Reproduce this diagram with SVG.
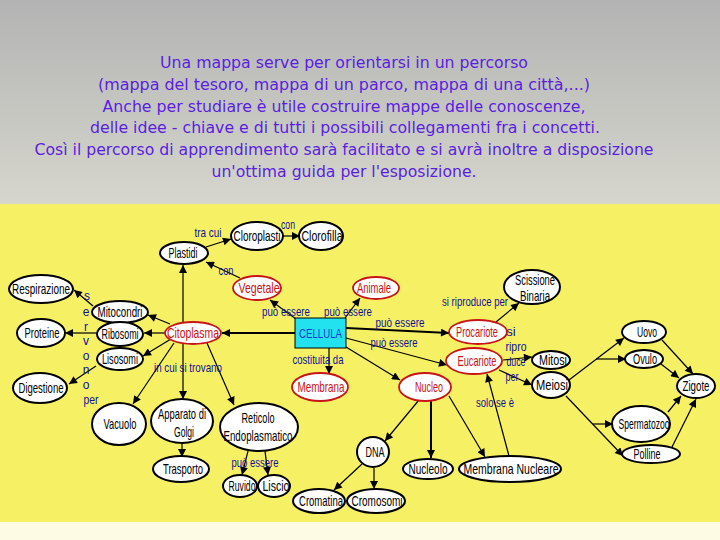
<svg xmlns="http://www.w3.org/2000/svg" width="720" height="540" viewBox="0 0 720 540">
<defs>
<linearGradient id="bg" x1="0" y1="0" x2="0" y2="1">
<stop offset="0" stop-color="#b3b3b3"/>
<stop offset="1" stop-color="#d6d6cd"/>
</linearGradient>
<marker id="a" viewBox="0 0 10 10" refX="10" refY="5" markerWidth="9" markerHeight="8" markerUnits="userSpaceOnUse" orient="auto">
<path d="M0,0 L10,5 L0,10 z" fill="#000"/>
</marker>
</defs>
<style>
.title{font-family:"DejaVu Sans",Tahoma,sans-serif;font-size:15px;fill:#5a1ee0;text-anchor:middle}
.n ellipse{fill:#fff;stroke:#000;stroke-width:2}
.r ellipse{fill:#fff;stroke:#c81414;stroke-width:1.8}
.n text{font-family:"Liberation Sans",Arial,sans-serif;font-size:14.5px;fill:#000;text-anchor:middle}
.r text{font-family:"Liberation Sans",Arial,sans-serif;font-size:14.5px;fill:#c81414;text-anchor:middle}
.lb{font-family:"Liberation Sans",Arial,sans-serif;font-size:13px;fill:#10109a;text-anchor:middle}
.sv{font-family:"Liberation Sans",Arial,sans-serif;font-size:12px;fill:#10109a;text-anchor:middle}
#conn path{fill:none;stroke:#000;stroke-width:1.2;marker-end:url(#a)}
#conn path.thick{stroke-width:2}
</style>
<rect x="0" y="0" width="720" height="204" fill="url(#bg)"/>
<rect x="0" y="204" width="720" height="318" fill="#f6f064"/>
<rect x="0" y="522" width="720" height="18" fill="#fdfbe3"/>

<g id="title">
<text class="title" x="344" y="68" textLength="368" lengthAdjust="spacingAndGlyphs">Una mappa serve per orientarsi in un percorso</text>
<text class="title" x="344" y="90" textLength="492" lengthAdjust="spacingAndGlyphs">(mappa del tesoro, mappa di un parco, mappa di una città,...)</text>
<text class="title" x="344" y="112" textLength="483" lengthAdjust="spacingAndGlyphs">Anche per studiare è utile costruire mappe delle conoscenze,</text>
<text class="title" x="345" y="133" textLength="510" lengthAdjust="spacingAndGlyphs">delle idee - chiave e di tutti i possibili collegamenti fra i concetti.</text>
<text class="title" x="344" y="155" textLength="619" lengthAdjust="spacingAndGlyphs">Così il percorso di apprendimento sarà facilitato e si avrà inoltre a disposizione</text>
<text class="title" x="344" y="177" textLength="265" lengthAdjust="spacingAndGlyphs">un'ottima guida per l'esposizione.</text>
</g>

<g id="conn">
<path d="M183,322 L183,265"/>
<path d="M206,247 L231,239"/>
<path d="M283,236 L300,236"/>
<path d="M240,278 L206,262"/>
<path d="M296,319 L270,300"/>
<path d="M345,318 L360,298"/>
<path class="thick" d="M295,333 L222,333"/>
<path class="thick" d="M346,328 L449,333"/>
<path d="M346,338 L447,365"/>
<path d="M329,348 L329,374"/>
<path d="M346,347 L400,380"/>
<path d="M170,324 L148,315"/>
<path d="M165,333 L144,333"/>
<path d="M171,339 L143,356"/>
<path d="M174,343 L133,404"/>
<path d="M183,344 L183,399"/>
<path d="M207,343 L234,405"/>
<path d="M93,306 L74,290"/>
<path d="M97,333 L65,333"/>
<path d="M96,366 L69,384"/>
<path d="M182,443 L182,457"/>
<path d="M248,451 L242,475"/>
<path d="M265,451 L268,475"/>
<path d="M419,400 L385,441"/>
<path class="thick" d="M431,401 L431,458"/>
<path d="M449,396 L485,457"/>
<path d="M509,456 L487,374"/>
<path d="M362,464 L334,490"/>
<path d="M374,468 L374,489"/>
<path d="M496,322 L519,303"/>
<path d="M503,360 L532,357"/>
<path d="M499,370 L532,385"/>
<path d="M569,380 L624,338"/>
<path d="M596,359 L626,359"/>
<path d="M566,396 L623,456"/>
<path d="M593,424 L613,424"/>
<path d="M662,340 L693,374"/>
<path d="M661,364 L679,378"/>
<path d="M668,412 L681,396"/>
<path d="M672,447 L696,399"/>
</g>

<g id="labels">
<text class="lb" x="208" y="237" textLength="27" lengthAdjust="spacingAndGlyphs">tra cui</text>
<text class="lb" x="288" y="229" textLength="14" lengthAdjust="spacingAndGlyphs">con</text>
<text class="lb" x="226" y="275" textLength="15" lengthAdjust="spacingAndGlyphs">con</text>
<text class="lb" x="286" y="316" textLength="48" lengthAdjust="spacingAndGlyphs">può essere</text>
<text class="lb" x="348" y="316" textLength="48" lengthAdjust="spacingAndGlyphs">può essere</text>
<text class="lb" x="400" y="327" textLength="49" lengthAdjust="spacingAndGlyphs">può essere</text>
<text class="lb" x="394" y="347" textLength="47" lengthAdjust="spacingAndGlyphs">può essere</text>
<text class="lb" x="318" y="364" textLength="51" lengthAdjust="spacingAndGlyphs">costituita da</text>
<text class="lb" x="188" y="372" textLength="68" lengthAdjust="spacingAndGlyphs">in cui si trovano</text>
<text class="lb" x="475" y="306" textLength="66" lengthAdjust="spacingAndGlyphs">si riproduce per</text>
<text class="lb" x="511" y="336">si</text>
<text class="lb" x="516" y="351" textLength="21" lengthAdjust="spacingAndGlyphs">ripro</text>
<text class="lb" x="516" y="366" textLength="19" lengthAdjust="spacingAndGlyphs">duce</text>
<text class="lb" x="512" y="381" textLength="13" lengthAdjust="spacingAndGlyphs">per</text>
<text class="lb" x="495" y="407" textLength="38" lengthAdjust="spacingAndGlyphs">solo se è</text>
<text class="lb" x="255" y="467" textLength="47" lengthAdjust="spacingAndGlyphs">può essere</text>
<text class="sv" x="87" y="300">s</text>
<text class="sv" x="86" y="316">e</text>
<text class="sv" x="86" y="331">r</text>
<text class="sv" x="86" y="345">v</text>
<text class="sv" x="86" y="360">o</text>
<text class="sv" x="86" y="374">n</text>
<text class="sv" x="86" y="389">o</text>
<text class="sv" x="91" y="404" textLength="15" lengthAdjust="spacingAndGlyphs">per</text>
</g>

<g id="cellula">
<rect x="295" y="318" width="51" height="30" fill="#22e2ef" stroke="#000" stroke-width="1"/>
<text x="320.5" y="338" font-family="Liberation Sans,Arial,sans-serif" font-size="13.5" fill="#1a3acc" text-anchor="middle" textLength="43" lengthAdjust="spacingAndGlyphs">CELLULA</text>
</g>

<g id="plastidi" class="n"><ellipse cx="184" cy="253" rx="24" ry="11"/><text x="183" y="258" textLength="29" lengthAdjust="spacingAndGlyphs">Plastidi</text></g>
<g id="cloroplasti" class="n"><ellipse cx="257" cy="236" rx="26" ry="14"/><text x="257" y="241" textLength="47" lengthAdjust="spacingAndGlyphs">Cloroplasti</text></g>
<g id="clorofilla" class="n"><ellipse cx="321" cy="236" rx="22" ry="14"/><text x="322" y="241" textLength="41" lengthAdjust="spacingAndGlyphs">Clorofilla</text></g>
<g id="vegetale" class="r"><ellipse cx="257" cy="288" rx="24" ry="12"/><text x="259" y="293" textLength="41" lengthAdjust="spacingAndGlyphs">Vegetale</text></g>
<g id="animale" class="r"><ellipse cx="376" cy="288" rx="23" ry="11"/><text x="374" y="293" textLength="34" lengthAdjust="spacingAndGlyphs">Animale</text></g>
<g id="citoplasma" class="r"><ellipse cx="193" cy="333" rx="28" ry="11"/><text x="193" y="338" textLength="52" lengthAdjust="spacingAndGlyphs">Citoplasma</text></g>
<g id="respirazione" class="n"><ellipse cx="41" cy="289" rx="32" ry="14"/><text x="41" y="294" textLength="58" lengthAdjust="spacingAndGlyphs">Respirazione</text></g>
<g id="mitocondri" class="n"><ellipse cx="120" cy="312" rx="28" ry="11"/><text x="120" y="317" textLength="45" lengthAdjust="spacingAndGlyphs">Mitocondri</text></g>
<g id="proteine" class="n"><ellipse cx="41" cy="333" rx="24" ry="14"/><text x="42" y="338" textLength="35" lengthAdjust="spacingAndGlyphs">Proteine</text></g>
<g id="ribosomi" class="n"><ellipse cx="120" cy="334" rx="23" ry="12"/><text x="120" y="339" textLength="37" lengthAdjust="spacingAndGlyphs">Ribosomi</text></g>
<g id="lisosomi" class="n"><ellipse cx="120" cy="359" rx="23" ry="11"/><text x="120" y="364" textLength="36" lengthAdjust="spacingAndGlyphs">Lisosomi</text></g>
<g id="digestione" class="n"><ellipse cx="40" cy="388" rx="27" ry="15"/><text x="41" y="393" textLength="45" lengthAdjust="spacingAndGlyphs">Digestione</text></g>
<g id="vacuolo" class="n"><ellipse cx="119" cy="424" rx="27" ry="21"/><text x="120" y="429" textLength="33" lengthAdjust="spacingAndGlyphs">Vacuolo</text></g>
<g id="golgi" class="n"><ellipse cx="182" cy="421" rx="31" ry="22"/><text x="182" y="419" textLength="48" lengthAdjust="spacingAndGlyphs">Apparato di</text><text x="184" y="437" textLength="20" lengthAdjust="spacingAndGlyphs">Golgi</text></g>
<g id="trasporto" class="n"><ellipse cx="181" cy="469" rx="28" ry="13"/><text x="183" y="474" textLength="40" lengthAdjust="spacingAndGlyphs">Trasporto</text></g>
<g id="reticolo" class="n"><ellipse cx="259" cy="427" rx="39" ry="24"/><text x="258" y="423" textLength="33" lengthAdjust="spacingAndGlyphs">Reticolo</text><text x="258" y="441" textLength="69" lengthAdjust="spacingAndGlyphs">Endoplasmatico</text></g>
<g id="ruvido" class="n"><ellipse cx="240" cy="486" rx="17" ry="11"/><text x="242" y="491" textLength="27" lengthAdjust="spacingAndGlyphs">Ruvido</text></g>
<g id="liscio" class="n"><ellipse cx="274" cy="486" rx="16" ry="11"/><text x="276" y="491" textLength="27" lengthAdjust="spacingAndGlyphs">Liscio</text></g>
<g id="membrana" class="r"><ellipse cx="320" cy="387" rx="28" ry="14"/><text x="321" y="392" textLength="47" lengthAdjust="spacingAndGlyphs">Membrana</text></g>
<g id="nucleo" class="r"><ellipse cx="425" cy="387" rx="26" ry="14"/><text x="429" y="392" textLength="28" lengthAdjust="spacingAndGlyphs">Nucleo</text></g>
<g id="dna" class="n"><ellipse cx="373" cy="452" rx="16" ry="15"/><text x="375" y="457" textLength="19" lengthAdjust="spacingAndGlyphs">DNA</text></g>
<g id="nucleolo" class="n"><ellipse cx="428" cy="469" rx="25" ry="10"/><text x="428" y="474" textLength="39" lengthAdjust="spacingAndGlyphs">Nucleolo</text></g>
<g id="cromatina" class="n"><ellipse cx="319" cy="501" rx="26" ry="12"/><text x="321" y="506" textLength="44" lengthAdjust="spacingAndGlyphs">Cromatina</text></g>
<g id="cromosomi" class="n"><ellipse cx="376" cy="501" rx="29" ry="12"/><text x="377" y="506" textLength="51" lengthAdjust="spacingAndGlyphs">Cromosomi</text></g>
<g id="membrananucleare" class="n"><ellipse cx="510" cy="469" rx="51" ry="13"/><text x="511" y="474" textLength="95" lengthAdjust="spacingAndGlyphs">Membrana Nucleare</text></g>
<g id="procariote" class="r"><ellipse cx="478" cy="332" rx="29" ry="12"/><text x="477" y="337" textLength="42" lengthAdjust="spacingAndGlyphs">Procariote</text></g>
<g id="eucariote" class="r"><ellipse cx="474" cy="361" rx="28" ry="13"/><text x="477" y="366" textLength="39" lengthAdjust="spacingAndGlyphs">Eucariote</text></g>
<g id="scissione" class="n"><ellipse cx="532" cy="287" rx="28" ry="17"/><text x="535" y="285" textLength="40" lengthAdjust="spacingAndGlyphs">Scissione</text><text x="535" y="301" textLength="30" lengthAdjust="spacingAndGlyphs">Binaria</text></g>
<g id="mitosi" class="n"><ellipse cx="551" cy="360" rx="19" ry="9"/><text x="553" y="365" textLength="28" lengthAdjust="spacingAndGlyphs">Mitosi</text></g>
<g id="meiosi" class="n"><ellipse cx="551" cy="385" rx="19" ry="13"/><text x="552" y="390" textLength="32" lengthAdjust="spacingAndGlyphs">Meiosi</text></g>
<g id="uovo" class="n"><ellipse cx="644" cy="332" rx="22" ry="11"/><text x="647" y="337" textLength="20" lengthAdjust="spacingAndGlyphs">Uovo</text></g>
<g id="ovulo" class="n"><ellipse cx="644" cy="359" rx="19" ry="9"/><text x="645" y="364" textLength="24" lengthAdjust="spacingAndGlyphs">Ovulo</text></g>
<g id="zigote" class="n"><ellipse cx="696" cy="386" rx="19" ry="12"/><text x="696" y="391" textLength="27" lengthAdjust="spacingAndGlyphs">Zigote</text></g>
<g id="spermatozoo" class="n"><ellipse cx="641" cy="424" rx="29" ry="18"/><text x="644" y="429" textLength="51" lengthAdjust="spacingAndGlyphs">Spermatozoo</text></g>
<g id="polline" class="n"><ellipse cx="651" cy="454" rx="29" ry="9"/><text x="647" y="459" textLength="27" lengthAdjust="spacingAndGlyphs">Polline</text></g>
</svg>
